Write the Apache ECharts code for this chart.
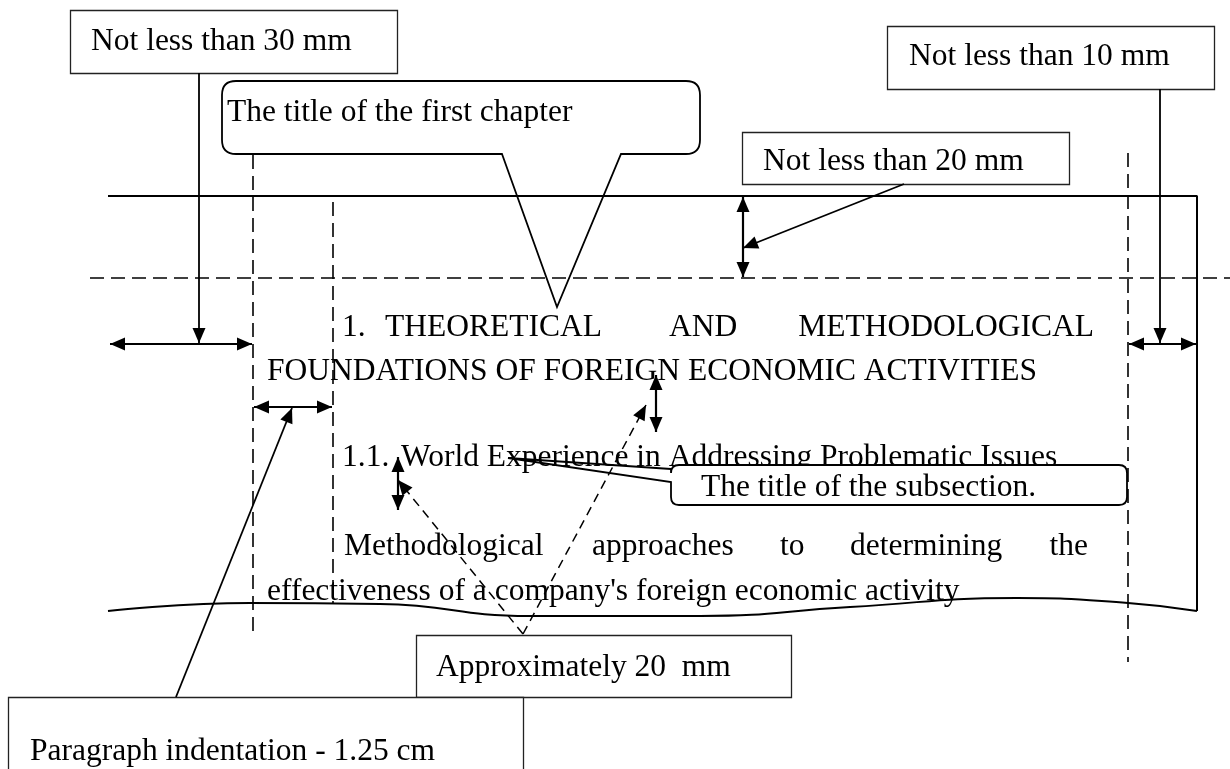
<!DOCTYPE html>
<html><head><meta charset="utf-8">
<script src="https://cdn.jsdelivr.net/npm/echarts@6/dist/echarts.min.js"></script>
<style>html,body{margin:0;padding:0;background:#fff}#c{width:1230px;height:769px}</style>
</head><body><div id="c"></div>
<script>
// ---- diagram data (page coordinates of the scheme) ----
const bodyWords = [
  ['1.', 342, 338, 'left'],
  ['THEORETICAL', 385, 338, 'left'],
  ['AND', 669, 338, 'left'],
  ['METHODOLOGICAL', 1094, 338, 'right'],
  ['FOUNDATIONS OF FOREIGN ECONOMIC ACTIVITIES', 267, 382, 'left'],
  ['1.1.', 342, 468, 'left'],
  ['World Experience in Addressing Problematic Issues', 401, 468, 'left'],
  ['Methodological', 344, 557, 'left'],
  ['approaches', 592, 557, 'left'],
  ['to', 780, 557, 'left'],
  ['determining', 850, 557, 'left'],
  ['the', 1088, 557, 'right'],
  ["effectiveness of a company's foreign economic activity", 267, 602, 'left']
];
const pageFrame = [[108,196],[1197,196],[1197,611]];
const pageWave = [[108,611],[250,603],[380,604],[530,616],[700,616],[850,607],[1017,598],[1128,603],[1197,611]];
const guideLines = [[90,278,1230,278],[253,155,253,635],[333,202,333,603],[1128,153,1128,662]];
const pointerLines = [[199,73,199,343],[1160,89,1160,343],[904,184,743,248],[176,697,292,408]];
const dashedPointers = [[523,634,398,480],[523,634,646,405]];
const doubleArrows = [[110,344,252,344],[1129,344,1196,344],[254,407,332,407],[743,197,743,277],[656,375,656,432],[398,457,398,510]];
const labelBoxes = [[70,10,397,73],[887,26,1214,89],[742,132,1069,184],[416,635,791,697],[8,697,523,800]];
const labelTexts = [['Not less than 30 mm',91,52],['Not less than 10 mm',909,67],['Not less than 20 mm',763,172],['Approximately 20  mm',436,678],['Paragraph indentation - 1.25 cm',30,762]];
const calloutBoxes = [[222,81,700,154,14],[671,465,1127,505,8]];
const calloutTexts = [['The title of the first chapter',227,123],['The title of the subsection.',701,498]];
// wedge: [side, a, b, tipX, tipY]
const calloutWedges = [['bottom',502,621,557,307],['left',469,482,508,458]];

const FONT = '"Liberation Serif","Times New Roman",serif';
const FS = 31.5;
const MID = FS*0.3375;

function textEl(t, p, align){
  return {type:'text', style:{text:t, x:p[0], y:p[1]-MID, fontSize:FS, fontFamily:FONT, fill:'#000', align:align||'left', verticalAlign:'middle'}};
}
function head(api, tip, from){
  const a = api.coord(tip), b = api.coord(from);
  const dx=a[0]-b[0], dy=a[1]-b[1], L=Math.hypot(dx,dy)||1;
  const ux=dx/L, uy=dy/L, len=15, w=6.5;
  const bx=a[0]-ux*len, by=a[1]-uy*len;
  return {type:'polygon', shape:{points:[[a[0],a[1]],[bx-uy*w,by+ux*w],[bx+uy*w,by-ux*w]]}, style:{fill:'#000'}};
}
function seg(api, p, q, style){
  const a=api.coord(p), b=api.coord(q);
  return {type:'line', shape:{x1:a[0],y1:a[1],x2:b[0],y2:b[1]}, style:style};
}
function calloutPath(api, i){
  const c=calloutBoxes[i], w=calloutWedges[i];
  const p0=api.coord([c[0],c[1]]), p1=api.coord([c[2],c[3]]);
  const x0=p0[0], y0=p0[1], x1=p1[0], y1=p1[1], r=c[4];
  const tip=api.coord([w[3],w[4]]);
  let d='';
  if (w[0]==='bottom'){
    const a=api.coord([w[1],c[3]])[0], b=api.coord([w[2],c[3]])[0];
    d = 'M'+a+' '+y1+' L'+tip[0]+' '+tip[1]+' L'+b+' '+y1+
        ' L'+(x1-r)+' '+y1+' Q'+x1+' '+y1+' '+x1+' '+(y1-r)+
        ' L'+x1+' '+(y0+r)+' Q'+x1+' '+y0+' '+(x1-r)+' '+y0+
        ' L'+(x0+r)+' '+y0+' Q'+x0+' '+y0+' '+x0+' '+(y0+r)+
        ' L'+x0+' '+(y1-r)+' Q'+x0+' '+y1+' '+(x0+r)+' '+y1+' Z';
  } else {
    const a=api.coord([c[0],w[1]])[1], b=api.coord([c[0],w[2]])[1];
    d = 'M'+x0+' '+a+' L'+tip[0]+' '+tip[1]+' L'+x0+' '+b+
        ' L'+x0+' '+(y1-r)+' Q'+x0+' '+y1+' '+(x0+r)+' '+y1+
        ' L'+(x1-r)+' '+y1+' Q'+x1+' '+y1+' '+x1+' '+(y1-r)+
        ' L'+x1+' '+(y0+r)+' Q'+x1+' '+y0+' '+(x1-r)+' '+y0+
        ' L'+(x0+r)+' '+y0+' Q'+x0+' '+y0+' '+x0+' '+(y0+r)+' Z';
  }
  return {x0:x0,y0:y0,x1:x1,y1:y1,r:r,d:d};
}

const chart = echarts.init(document.getElementById('c'), null, {renderer:'canvas'});
const solid = {stroke:'#000', lineWidth:1.8};
chart.setOption({
  animation:false,
  backgroundColor:'#fff',
  grid:{left:0,right:0,top:0,bottom:0,containLabel:false},
  xAxis:{type:'value',min:0,max:1230,show:false},
  yAxis:{type:'value',min:0,max:769,inverse:true,show:false},
  series:[
    {type:'custom', z:1, silent:true, data:bodyWords.map(w=>[w[1],w[2]]),
     renderItem:(p,api)=>{const w=bodyWords[p.dataIndex]; return textEl(w[0], api.coord([w[1],w[2]]), w[3]);}},
    {type:'line', z:2, silent:true, data:pageFrame, symbol:'none', lineStyle:{color:'#000',width:2}},
    {type:'line', z:2, silent:true, data:pageWave, symbol:'none', smooth:0.5, lineStyle:{color:'#000',width:2}},
    {type:'custom', z:2, silent:true, data:guideLines,
     renderItem:(p,api)=>{const s=guideLines[p.dataIndex]; return seg(api,[s[0],s[1]],[s[2],s[3]],{stroke:'#000',lineWidth:1.6,lineDash:[14,7]});}},
    {type:'custom', z:3, silent:true, data:calloutBoxes.map(c=>[c[0],c[1]]),
     renderItem:(p,api)=>{
       const g=calloutPath(api,p.dataIndex), t=calloutTexts[p.dataIndex];
       return {type:'group', children:[
         {type:'rect', shape:{x:g.x0,y:g.y0,width:g.x1-g.x0,height:g.y1-g.y0,r:g.r}, style:{fill:'#fff'}},
         textEl(t[0], api.coord([t[1],t[2]]), 'left'),
         {type:'path', shape:{pathData:g.d}, style:{fill:'none',stroke:'#000',lineWidth:1.8}}
       ]};
     }},
    {type:'custom', z:4, silent:true, data:labelBoxes,
     renderItem:(p,api)=>{
       const b=labelBoxes[p.dataIndex], t=labelTexts[p.dataIndex];
       const a=api.coord([b[0],b[1]]), c=api.coord([b[2],b[3]]);
       return {type:'group', children:[
         {type:'rect', shape:{x:a[0]+0.5,y:a[1]+0.5,width:c[0]-a[0],height:c[1]-a[1]}, style:{fill:'#fff',stroke:'#222',lineWidth:1.3}},
         textEl(t[0], api.coord([t[1],t[2]]), 'left')
       ]};
     }},
    {type:'custom', z:5, silent:true, data:pointerLines,
     renderItem:(p,api)=>{const s=pointerLines[p.dataIndex], f=[s[0],s[1]], t=[s[2],s[3]];
       return {type:'group', children:[seg(api,f,t,solid), head(api,t,f)]};}},
    {type:'custom', z:5, silent:true, data:dashedPointers,
     renderItem:(p,api)=>{const s=dashedPointers[p.dataIndex], f=[s[0],s[1]], t=[s[2],s[3]];
       return {type:'group', children:[seg(api,f,t,{stroke:'#000',lineWidth:1.5,lineDash:[9,6]}), head(api,t,f)]};}},
    {type:'custom', z:5, silent:true, data:doubleArrows,
     renderItem:(p,api)=>{const s=doubleArrows[p.dataIndex], f=[s[0],s[1]], t=[s[2],s[3]];
       return {type:'group', children:[seg(api,f,t,{stroke:'#000',lineWidth:2.2}), head(api,t,f), head(api,f,t)]};}}
  ]
});
</script></body></html>
